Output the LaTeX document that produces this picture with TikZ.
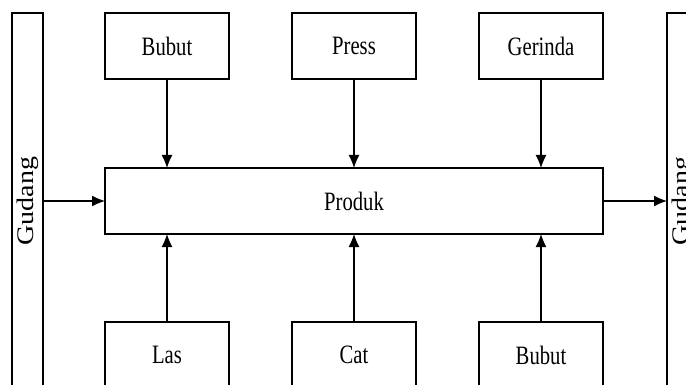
\documentclass[tikz,border=0pt]{standalone}
\usepackage{fontspec}
\setmainfont{Liberation Serif}
\usetikzlibrary{arrows.meta}
\newcommand{\lbl}[1]{\scalebox{0.78}[1]{#1}}
\tikzset{
  box/.style={draw, line width=1.3pt, rectangle, inner sep=0pt, outer sep=0pt,
    minimum width=124pt, minimum height=66pt, font=\fontsize{26.5}{30}\selectfont},
  store/.style={draw, line width=1.3pt, rectangle, inner sep=0pt, outer sep=0pt,
    minimum width=31pt, minimum height=420pt},
  storelabel/.style={rotate=90, inner sep=0pt, font=\fontsize{28}{32}\selectfont},
  flow/.style={line width=1.3pt, -{Latex[length=13pt,width=11pt]}}
}
\begin{document}
\begin{tikzpicture}[x=1pt,y=-1pt]
\useasboundingbox (0,0) rectangle (686,385);
\clip (0,0) rectangle (686,385);
% warehouses at both ends
\node[store, anchor=north west] (gudL) at (12,13) {};
\node[store, anchor=north west] (gudR) at (667,13) {};
\node[storelabel] (gudLtxt) at (27.5,201) {\scalebox{1}[0.85]{Gudang}};
\node[storelabel] (gudRtxt) at (682.5,201) {\scalebox{1}[0.85]{Gudang}};
% product
\node[box, minimum width=498pt] (prod) at (354,201) {\lbl{Produk}};
% upper processes
\node[box] (bubutA) at (167,46) {\lbl{Bubut}};
\node[box] (press) at (354,46) {\lbl{Press}};
\node[box] (gerinda) at (541,46) {\lbl{Gerinda}};
% lower processes
\node[box] (las) at (167,355) {\lbl{Las}};
\node[box] (cat) at (354,355) {\lbl{Cat}};
\node[box] (bubutB) at (541,355) {\lbl{Bubut}};
% flows
\draw[flow] (bubutA.south) -- (bubutA.south |- prod.north);
\draw[flow] (press.south) -- (press.south |- prod.north);
\draw[flow] (gerinda.south) -- (gerinda.south |- prod.north);
\draw[flow] (las.north) -- (las.north |- prod.south);
\draw[flow] (cat.north) -- (cat.north |- prod.south);
\draw[flow] (bubutB.north) -- (bubutB.north |- prod.south);
\draw[flow] (gudL.east |- prod.west) -- (prod.west);
\draw[flow] (prod.east) -- (gudR.west |- prod.east);
\end{tikzpicture}
\end{document}
